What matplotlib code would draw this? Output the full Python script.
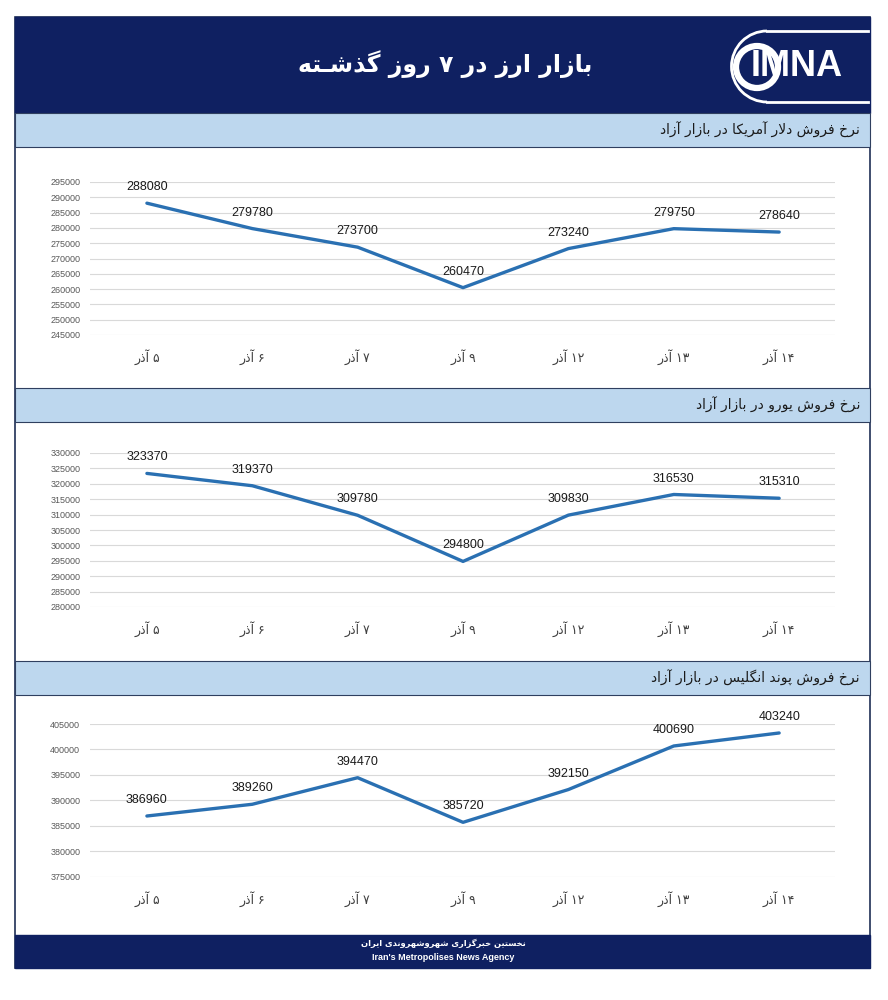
import re
import matplotlib
matplotlib.use('Agg')
import matplotlib.pyplot as plt
from matplotlib.patches import Rectangle, Circle, Arc

# داده‌ها
dates = ['۵ آذر', '۶ آذر', '۷ آذر', '۹ آذر', '۱۲ آذر', '۱۳ آذر', '۱۴ آذر']
dollar = [288080, 279780, 273700, 260470, 273240, 279750, 278640]
euro = [323370, 319370, 309780, 294800, 309830, 316530, 315310]
pound = [386960, 389260, 394470, 385720, 392150, 400690, 403240]

title = 'بازار ارز در ۷ روز گذشـته'
dollar_title = 'نرخ فروش دلار آمریکا در بازار آزاد'
euro_title = 'نرخ فروش یورو در بازار آزاد'
pound_title = 'نرخ فروش پوند انگلیس در بازار آزاد'
footer_fa = 'نخستین خبرگزاری شهروشهروندی ایران'
footer_en = "Iran's Metropolises News Agency"

dollar_ticks = list(range(245000, 295001, 5000))
euro_ticks = list(range(280000, 330001, 5000))
pound_ticks = list(range(375000, 405001, 5000))

# شکل‌دهی حروف فارسی (matplotlib خودش اتصال و راست‌به‌چپ ندارد)
FORMS = {
    'ا': ('\uFE8D', '\uFE8E', None, None),
    'آ': ('\uFE81', '\uFE82', None, None),
    'ب': ('\uFE8F', '\uFE90', '\uFE91', '\uFE92'),
    'پ': ('\uFB56', '\uFB57', '\uFB58', '\uFB59'),
    'ت': ('\uFE95', '\uFE96', '\uFE97', '\uFE98'),
    'خ': ('\uFEA5', '\uFEA6', '\uFEA7', '\uFEA8'),
    'د': ('\uFEA9', '\uFEAA', None, None),
    'ذ': ('\uFEAB', '\uFEAC', None, None),
    'ر': ('\uFEAD', '\uFEAE', None, None),
    'ز': ('\uFEAF', '\uFEB0', None, None),
    'س': ('\uFEB1', '\uFEB2', '\uFEB3', '\uFEB4'),
    'ش': ('\uFEB5', '\uFEB6', '\uFEB7', '\uFEB8'),
    'ف': ('\uFED1', '\uFED2', '\uFED3', '\uFED4'),
    '\u06A9': ('\uFB8E', '\uFB8F', '\uFB90', '\uFB91'),
    '\u0643': ('\uFB8E', '\uFB8F', '\uFB90', '\uFB91'),
    'گ': ('\uFB92', '\uFB93', '\uFB94', '\uFB95'),
    'ل': ('\uFEDD', '\uFEDE', '\uFEDF', '\uFEE0'),
    'م': ('\uFEE1', '\uFEE2', '\uFEE3', '\uFEE4'),
    'ن': ('\uFEE5', '\uFEE6', '\uFEE7', '\uFEE8'),
    'ه': ('\uFEE9', '\uFEEA', '\uFEEB', '\uFEEC'),
    'و': ('\uFEED', '\uFEEE', None, None),
    '\u06CC': ('\uFBFC', '\uFBFD', '\uFBFE', '\uFBFF'),
    '\u064A': ('\uFBFC', '\uFBFD', '\uFBFE', '\uFBFF'),
    '\u0640': ('\u0640', '\u0640', '\u0640', '\u0640'),
}
LAM_ALEF = {'ا': ('\uFEFB', '\uFEFC'), 'آ': ('\uFEF5', '\uFEF6')}


def fa(text):
    chars = list(text)
    out = []
    i = 0
    while i < len(chars):
        ch = chars[i]
        f = FORMS.get(ch)
        if f is None:
            out.append(ch)
            i += 1
            continue
        jp = i > 0 and chars[i - 1] in FORMS and FORMS[chars[i - 1]][2] is not None
        if ch == 'ل' and i + 1 < len(chars) and chars[i + 1] in LAM_ALEF:
            lig = LAM_ALEF[chars[i + 1]]
            out.append(lig[1] if jp else lig[0])
            i += 2
            continue
        jn = f[2] is not None and i + 1 < len(chars) and chars[i + 1] in FORMS
        if jp and jn:
            out.append(f[3])
        elif jp:
            out.append(f[1])
        elif jn:
            out.append(f[2])
        else:
            out.append(f[0])
        i += 1
    s = ''.join(out)[::-1]
    # اعداد چپ‌به‌راست می‌مانند
    return re.sub(r'[0-9\u06F0-\u06F9]+', lambda m: m.group(0)[::-1], s)


plt.rcParams['font.family'] = ['Liberation Sans', 'DejaVu Sans']

navy = '#0f2061'
band = '#bdd7ee'
blue = '#2a70b2'

fig = plt.figure(figsize=(8.88, 10), dpi=100)

# لایه پس‌زمینه به پیکسل
bg = fig.add_axes([0, 0, 1, 1])
bg.set_xlim(0, 888)
bg.set_ylim(1000, 0)
bg.axis('off')

bg.add_patch(Rectangle((15, 17), 855, 951, fill=False, ec='#1f2f55', lw=1.2))
bg.add_patch(Rectangle((15, 17), 855, 96, fc=navy, ec=navy))
bg.add_patch(Rectangle((15, 935), 855, 33, fc=navy, ec=navy))

bg.text(445, 64, fa(title), color='white', fontsize=17, fontweight='bold',
        ha='center', va='center', family=['DejaVu Sans'])

# لوگو
bg.add_patch(Arc((767, 66.5), 71, 71, theta1=90, theta2=270, ec='white', lw=2))
bg.plot([767, 868], [31, 31], color='white', lw=2)
bg.plot([767, 868], [102, 102], color='white', lw=2)
bg.add_patch(Circle((757, 67), 21, fill=False, ec='white', lw=4.5))
bg.text(797, 67, 'IMNA', color='white', fontsize=26, fontweight='bold',
        ha='center', va='center')

bg.text(443, 943, fa(footer_fa), color='white', fontsize=6, fontweight='bold',
        ha='center', va='center', family=['DejaVu Sans'])
bg.text(443, 957, footer_en, color='white', fontsize=6.5, fontweight='bold',
        ha='center', va='center')

panels = [
    (dollar, dollar_title, dollar_ticks, 113, 182, 335),
    (euro, euro_title, euro_ticks, 388, 453, 607),
    (pound, pound_title, pound_ticks, 661, 724, 877),
]

for values, name, ticks, band_top, ax_top, ax_bottom in panels:
    bg.add_patch(Rectangle((15, band_top), 855, 34, fc=band, ec='#2f3f5f', lw=0.8))
    bg.text(860, band_top + 17, fa(name), color='#1a1a1a', fontsize=10,
            ha='right', va='center', family=['DejaVu Sans'])

    ax = fig.add_axes([90 / 888, 1 - ax_bottom / 1000, 745 / 888, (ax_bottom - ax_top) / 1000])
    ax.set_facecolor('none')
    x = list(range(len(values)))
    ax.plot(x, values, color=blue, lw=2.4, solid_capstyle='round', zorder=3)
    for xi, v in zip(x, values):
        ax.annotate(str(v), (xi, v), xytext=(0, 11.5), textcoords='offset points',
                    ha='center', va='center', fontsize=9, color='#1a1a1a')
    ax.set_xlim(-0.54, 6.53)
    ax.set_ylim(ticks[0], ticks[-1])
    ax.set_yticks(ticks)
    ax.set_yticklabels([str(t) for t in ticks])
    ax.set_xticks(x)
    ax.set_xticklabels([fa(d) for d in dates], family=['DejaVu Sans'])
    ax.grid(axis='y', color='#d9d9d9', lw=0.8)
    ax.set_axisbelow(True)
    for sp in ax.spines.values():
        sp.set_visible(False)
    ax.tick_params(axis='y', length=0, pad=7, labelsize=6.5, labelcolor='#595959')
    ax.tick_params(axis='x', length=0, pad=10, labelsize=9, labelcolor='#404040')

fig.savefig('out.png', dpi=100)
